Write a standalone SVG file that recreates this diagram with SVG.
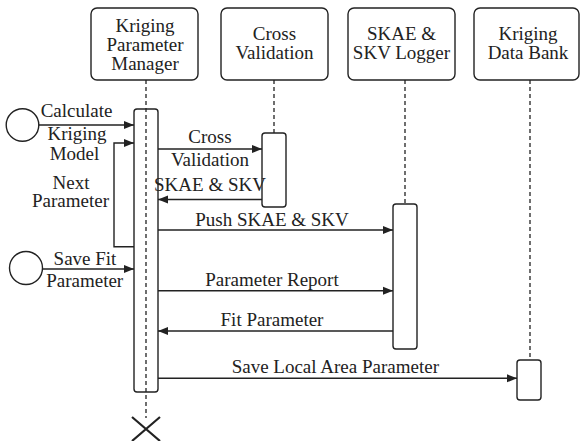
<svg xmlns="http://www.w3.org/2000/svg" width="580" height="441" viewBox="0 0 580 441" font-family="'Liberation Serif', 'Times New Roman', 'DejaVu Serif', serif" font-size="19">
<defs>
<style>
.box{fill:#fff;stroke:#222;stroke-width:1.4}
.act{fill:none;stroke:#222;stroke-width:1.4}
.life{stroke:#222;stroke-width:1.3;stroke-dasharray:4 3;fill:none}
.msg{stroke:#222;stroke-width:1.4;fill:none}
.arr{marker-end:url(#ah)}
text{font-family:'Liberation Serif','Times New Roman','DejaVu Serif',serif;font-size:19px;fill:#222;text-anchor:middle}
</style>
<marker id="ah" viewBox="0 0 10 10" refX="10" refY="5" markerWidth="10" markerHeight="10" markerUnits="userSpaceOnUse" orient="auto">
<path d="M0,1 L10,5 L0,9 Z" fill="#222"/>
</marker>
</defs>
<rect width="580" height="441" fill="#fff"/>
<g id="lifelines">
<line class="life" x1="146" y1="80" x2="146" y2="418"/>
<line class="life" x1="274" y1="80" x2="274" y2="133"/>
<line class="life" x1="405" y1="80" x2="405" y2="204"/>
<line class="life" x1="530" y1="80" x2="530" y2="360"/>
</g>
<g id="kpm">
<rect class="box" x="91" y="8" width="107" height="72" rx="6"/>
<text x="145" y="31.5">Kriging</text>
<text x="145" y="50.5">Parameter</text>
<text x="145" y="69.5">Manager</text>
<rect class="act" x="134" y="109" width="24" height="283" rx="3"/>
</g>
<g id="cv">
<rect class="box" x="221" y="8" width="107" height="72" rx="6"/>
<text x="274.5" y="40">Cross</text>
<text x="274.5" y="59">Validation</text>
<rect class="box" x="262" y="133" width="24" height="74" rx="3"/>
</g>
<g id="logger">
<rect class="box" x="348" y="8" width="107" height="72" rx="6"/>
<text x="401.5" y="40">SKAE &amp;</text>
<text x="401.5" y="59">SKV Logger</text>
<rect class="box" x="393" y="204" width="24" height="145" rx="3"/>
</g>
<g id="databank">
<rect class="box" x="474" y="8" width="105" height="72" rx="6"/>
<text x="528" y="40">Kriging</text>
<text x="528" y="59">Data Bank</text>
<rect class="box" x="517" y="360" width="24" height="40" rx="3"/>
</g>
<g id="start1"><circle class="box" cx="22.5" cy="125" r="16.3"/></g>
<g id="start2"><circle class="box" cx="26" cy="268" r="16.5"/></g>
<g id="end">
<path d="M132,417 L160,441 M160,417 L132,441" stroke="#222" stroke-width="2.2" fill="none"/>
</g>
<g id="connectors">
<line class="msg arr" x1="39" y1="125" x2="134" y2="125"/>
<text x="76.5" y="116.5">Calculate</text>
<path class="msg arr" d="M134,246.7 H114 V143 H134"/>
<text x="77" y="140">Kriging</text>
<text x="74.5" y="160">Model</text>
<text x="71" y="188.5">Next</text>
<text x="70.5" y="207">Parameter</text>
<line class="msg arr" x1="158" y1="149" x2="262" y2="149"/>
<text x="210" y="143">Cross</text>
<text x="210" y="166">Validation</text>
<line class="msg arr" x1="262" y1="199.5" x2="158" y2="199.5"/>
<text x="210" y="190.5">SKAE &amp; SKV</text>
<line class="msg arr" x1="42.5" y1="269" x2="134" y2="269"/>
<text x="85" y="265">Save Fit</text>
<text x="84.7" y="287.3">Parameter</text>
<line class="msg arr" x1="158" y1="230" x2="393" y2="230"/>
<text x="272" y="226">Push SKAE &amp; SKV</text>
<line class="msg arr" x1="158" y1="290.7" x2="393" y2="290.7"/>
<text x="272" y="286">Parameter Report</text>
<line class="msg arr" x1="393" y1="331" x2="158" y2="331"/>
<text x="272" y="326">Fit Parameter</text>
<line class="msg arr" x1="158" y1="378.3" x2="517" y2="378.3"/>
<text x="335.3" y="373.3">Save Local Area Parameter</text>
</g>
</svg>
